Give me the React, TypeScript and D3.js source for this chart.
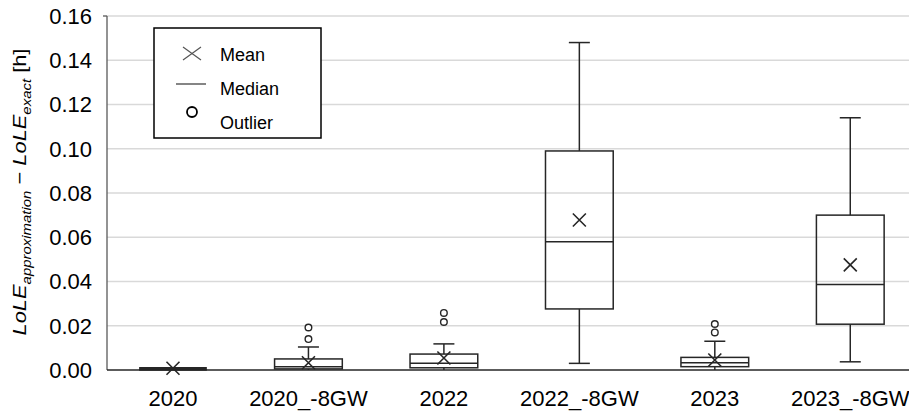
import React from "react";
import * as d3 from "d3";

const categories = ["2020", "2020_-8GW", "2022", "2022_-8GW", "2023", "2023_-8GW"];
const whiskerLow = [0, 0, 0, 0.003, 0, 0.0037];
const q1 = [0, 0.0005, 0.001, 0.0276, 0.0015, 0.0207];
const median = [0, 0.0015, 0.003, 0.058, 0.0033, 0.0387];
const q3 = [0.0005, 0.005, 0.0072, 0.099, 0.0057, 0.07];
const whiskerHigh = [0.001, 0.0104, 0.0118, 0.148, 0.013, 0.114];
const means = [0.0008, 0.0033, 0.0054, 0.0678, 0.0045, 0.0475];
const outliers: number[][] = [[], [0.014, 0.0192], [0.0217, 0.0258], [], [0.017, 0.0208], []];
const yTicks = [0, 0.02, 0.04, 0.06, 0.08, 0.1, 0.12, 0.14, 0.16];

const W = 909, H = 414;
const left = 107, top = 16, bottom = 370, rightEdge = 918;
const font = "Liberation Sans, Arial, sans-serif";
const ink = "#262626";

export default function App() {
  const x = d3.scaleBand<string>().domain(categories).range([left - 1.75, rightEdge]).paddingInner(0).paddingOuter(0);
  const y = d3.scaleLinear().domain([0, 0.16]).range([bottom, top]);
  const bw = x.bandwidth() * 0.5;
  const cap = 21;
  const ms = 6.5;

  return (
    <svg width={W} height={H} style={{ position: "absolute", left: 0, top: 0, background: "#fff" }} fontFamily={font}>
      {yTicks.filter(t => t > 0).map(t => (
        <line key={t} x1={left} x2={W} y1={y(t)} y2={y(t)} stroke="#d9d9d9" strokeWidth={1.3} />
      ))}
      {yTicks.map(t => (
        <text key={"l" + t} x={92} y={y(t)} dy="0.36em" textAnchor="end" fontSize={22} fill="#000">{t.toFixed(2)}</text>
      ))}
      <line x1={left} x2={left} y1={top} y2={bottom} stroke="#595959" strokeWidth={1.3} />
      <line x1={left - 4} x2={left} y1={top} y2={top} stroke="#595959" strokeWidth={1.3} />
      <line x1={left} x2={W} y1={bottom} y2={bottom} stroke={ink} strokeWidth={1.5} />

      {categories.map((c, i) => {
        const cx = (x(c) as number) + x.bandwidth() / 2;
        const x0 = cx - bw / 2;
        const isFlat = y(q1[i]) - y(q3[i]) < 2;
        return (
          <g key={c}>
            <line x1={cx} x2={cx} y1={y(q3[i])} y2={y(whiskerHigh[i])} stroke={ink} strokeWidth={1.5} />
            <line x1={cx - cap / 2} x2={cx + cap / 2} y1={y(whiskerHigh[i])} y2={y(whiskerHigh[i])} stroke={ink} strokeWidth={1.5} />
            <line x1={cx} x2={cx} y1={y(q1[i])} y2={y(whiskerLow[i])} stroke={ink} strokeWidth={1.5} />
            {whiskerLow[i] > 0 && (
              <line x1={cx - cap / 2} x2={cx + cap / 2} y1={y(whiskerLow[i])} y2={y(whiskerLow[i])} stroke={ink} strokeWidth={1.5} />
            )}
            {isFlat ? (
              <line x1={x0} x2={x0 + bw} y1={y(q3[i]) - 0.5} y2={y(q3[i]) - 0.5} stroke={ink} strokeWidth={3} />
            ) : (
              <rect x={x0} y={y(q3[i])} width={bw} height={y(q1[i]) - y(q3[i])} fill="none" stroke={ink} strokeWidth={1.5} />
            )}
            <line x1={x0} x2={x0 + bw} y1={y(median[i])} y2={y(median[i])} stroke={ink} strokeWidth={1.5} />
            <path
              d={`M${cx - ms},${y(means[i]) - ms}L${cx + ms},${y(means[i]) + ms}M${cx - ms},${y(means[i]) + ms}L${cx + ms},${y(means[i]) - ms}`}
              stroke={ink} strokeWidth={1.6} fill="none" />
            {outliers[i].map((o, j) => (
              <circle key={j} cx={cx} cy={y(o)} r={3.3} fill="#fff" stroke={ink} strokeWidth={1.4} />
            ))}
            <text x={cx} y={406} textAnchor="middle" fontSize={22} fill="#000">{c}</text>
          </g>
        );
      })}

      {/* Legend */}
      <g>
        <rect x={154} y={28} width={167} height={110} fill="#fff" stroke="#000" strokeWidth={1.5} />
        <path d="M183,47L201,60M183,60L201,47" stroke="#555" strokeWidth={1.2} fill="none" />
        <text x={220} y={61} fontSize={18} fill="#000">Mean</text>
        <line x1={176} x2={206} y1={84} y2={84} stroke="#333" strokeWidth={1.2} />
        <text x={220} y={95} fontSize={18} fill="#000">Median</text>
        <circle cx={192} cy={112} r={5} fill="#fff" stroke="#000" strokeWidth={1.8} />
        <text x={220} y={129} fontSize={18} fill="#000">Outlier</text>
      </g>

      {/* Y label */}
      <text transform="translate(26,192) rotate(-90) scale(1.15,1)" textAnchor="middle" fontSize={19} fill="#000">
        <tspan fontStyle="italic">LoLE</tspan>
        <tspan fontStyle="italic" fontSize={13} dy={5}>approximation</tspan>
        <tspan dy={-5}> − </tspan>
        <tspan fontStyle="italic">LoLE</tspan>
        <tspan fontStyle="italic" fontSize={13} dy={5}>exact</tspan>
        <tspan dy={-5}> [h]</tspan>
      </text>
    </svg>
  );
}
